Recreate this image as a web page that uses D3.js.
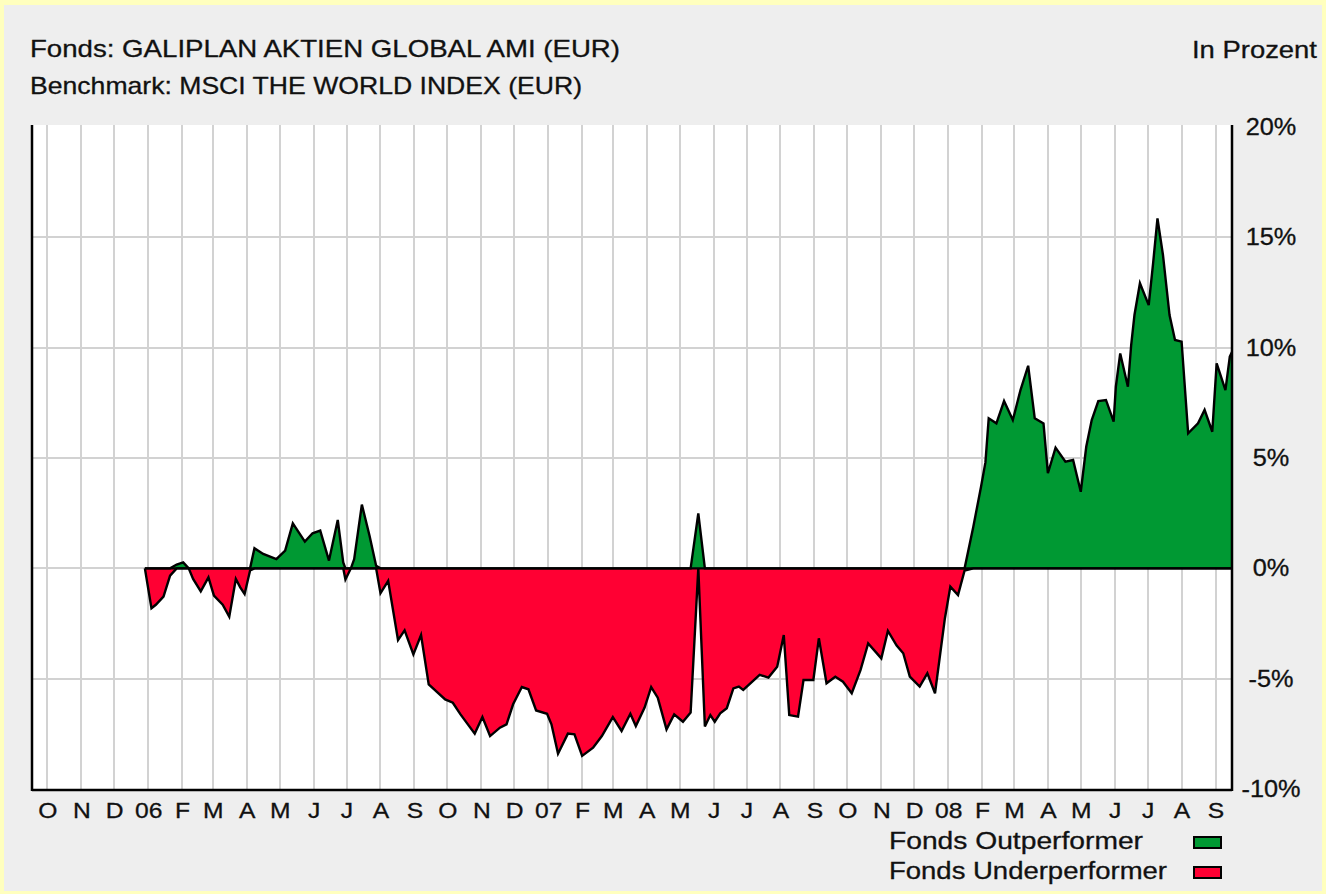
<!DOCTYPE html>
<html><head><meta charset="utf-8">
<script src="https://cdn.jsdelivr.net/npm/d3@7"></script>
<style>
html,body{margin:0;padding:0;background:#fff;}
svg{display:block;font-family:"Liberation Sans",Arial,Helvetica,sans-serif;}
</style>
</head><body>
<svg id="chart" width="1326" height="894"></svg>
<script>
const fundTitle = "Fonds: GALIPLAN AKTIEN GLOBAL AMI (EUR)";
const benchmarkTitle = "Benchmark: MSCI THE WORLD INDEX (EUR)";
const unitLabel = "In Prozent";
const legendLabels = ["Fonds Outperformer", "Fonds Underperformer"];

const dates = [
  "2005-12-29","2006-01-04","2006-01-08","2006-01-15","2006-01-21","2006-01-27","2006-02-02","2006-02-07",
  "2006-02-11","2006-02-18","2006-02-25","2006-03-02","2006-03-10","2006-03-16","2006-03-22","2006-03-26",
  "2006-03-30","2006-04-04","2006-04-08","2006-04-16","2006-04-28","2006-05-06","2006-05-13","2006-05-24",
  "2006-05-31","2006-06-07","2006-06-15","2006-06-23","2006-06-28","2006-06-30","2006-07-05","2006-07-08",
  "2006-07-15","2006-07-22","2006-07-28","2006-08-01","2006-08-08","2006-08-17","2006-08-23","2006-08-31",
  "2006-09-07","2006-09-14","2006-09-29","2006-10-06","2006-10-13","2006-10-26","2006-11-02","2006-11-09",
  "2006-11-18","2006-11-24","2006-11-30","2006-12-08","2006-12-14","2006-12-21","2006-12-31","2007-01-04",
  "2007-01-10","2007-01-19","2007-01-25","2007-02-01","2007-02-11","2007-02-19","2007-03-01","2007-03-09",
  "2007-03-17","2007-03-22","2007-03-30","2007-04-05","2007-04-11","2007-04-19","2007-04-26","2007-05-04",
  "2007-05-11","2007-05-18","2007-05-24","2007-05-29","2007-06-02","2007-06-07","2007-06-13","2007-06-19",
  "2007-06-24","2007-06-28","2007-07-06","2007-07-13","2007-07-21","2007-07-29","2007-08-04","2007-08-09",
  "2007-08-17","2007-08-22","2007-08-31","2007-09-05","2007-09-12","2007-09-20","2007-09-27","2007-10-05",
  "2007-10-13","2007-10-20","2007-11-01","2007-11-07","2007-11-15","2007-11-21","2007-11-27","2007-12-06",
  "2007-12-13","2007-12-20","2007-12-29","2008-01-03","2008-01-10","2008-01-16","2008-01-24","2008-01-31",
  "2008-02-04","2008-02-07","2008-02-14","2008-02-21","2008-02-29","2008-03-07","2008-03-14","2008-03-20",
  "2008-03-28","2008-04-01","2008-04-08","2008-04-17","2008-04-24","2008-05-01","2008-05-06","2008-05-11",
  "2008-05-17","2008-05-24","2008-05-31","2008-06-02","2008-06-06","2008-06-13","2008-06-16","2008-06-19",
  "2008-06-24","2008-07-02","2008-07-06","2008-07-10","2008-07-15","2008-07-21","2008-07-26","2008-08-01",
  "2008-08-07","2008-08-16","2008-08-22","2008-08-29","2008-09-02","2008-09-10","2008-09-14","2008-09-16"
];
const relativePerformance = [
   0.00, -1.81, -1.65, -1.28, -0.33,  0.17,  0.27,  0.00,
  -0.48, -1.04, -0.41, -1.24, -1.65, -2.19, -0.48, -0.86,
  -1.16, -0.10,  0.91,  0.65,  0.42,  0.80,  2.04,  1.21,
   1.59,  1.71,  0.35,  2.19,  0.27, -0.51,  0.00,  0.42,
   2.89,  1.48,  0.12, -1.13, -0.57, -3.25, -2.81, -3.90,
  -3.02, -5.26, -5.94, -6.09, -6.62, -7.49, -6.74, -7.60,
  -7.22, -7.07, -6.16, -5.38, -5.48, -6.44, -6.59, -7.07,
  -8.40, -7.49, -7.52, -8.50, -8.13, -7.60, -6.74, -7.37,
  -6.59, -7.15, -6.31, -5.38, -5.86, -7.30, -6.62, -6.95,
  -6.54,  2.49, -7.17, -6.65, -6.95, -6.57, -6.34, -5.44,
  -5.36, -5.51, -5.14, -4.83, -4.95, -4.46, -3.02, -6.65,
  -6.72, -5.06, -5.06, -3.17, -5.21, -4.91, -5.14, -5.66,
  -4.61, -3.40, -4.08, -2.84, -3.50, -3.85, -4.91, -5.36,
  -4.76, -5.66, -2.27, -0.83, -1.21, -0.10,  1.90,  3.70,
   4.80,  6.80,  6.57,  7.58,  6.72,  8.08,  9.18,  6.80,
   6.57,  4.31,  5.47,  4.83,  4.91,  3.47,  5.51,  6.72,
   7.58,  7.63,  6.65,  8.23,  9.74,  8.23, 10.12, 11.48,
  12.92, 11.93, 13.82, 15.86, 14.20, 11.48, 10.35, 10.27,
   6.12,  6.57,  7.18,  6.19,  9.29,  8.08,  9.59,  9.80
];

const yTickValues = [-10, -5, 0, 5, 10, 15, 20];
const yTickLabels = ["-10%", "-5%", "0%", "5%", "10%", "15%", "20%"];
const monthTickLabels = ["O","N","D","06","F","M","A","M","J","J","A","S",
                         "O","N","D","07","F","M","A","M","J","J","A","S",
                         "O","N","D","08","F","M","A","M","J","J","A","S"];

const parse = d3.timeParse("%Y-%m-%d");
const data = dates.map((d, i) => ({date: parse(d), value: relativePerformance[i]}));

const svg = d3.select("#chart");
const W = 1326, H = 894;
const plot = {left: 32, right: 1232, top: 125, bottom: 790};

// background
svg.append("rect").attr("width", W).attr("height", H).attr("fill", "#ffffbe");
svg.append("rect").attr("x", 4).attr("y", 5).attr("width", W - 8).attr("height", H - 8).attr("fill", "#eeeeee");

const x = d3.scaleTime()
  .domain([new Date(2005, 8, 17), new Date(2008, 8, 16)])
  .range([plot.left, plot.right]);
const y = d3.scaleLinear().domain([-10, 20]).range([789, 127]);

// plot background
svg.append("rect").attr("x", plot.left).attr("y", plot.top)
  .attr("width", plot.right - plot.left).attr("height", plot.bottom - plot.top).attr("fill", "#ffffff");

const monthTicks = d3.timeMonth.range(new Date(2005, 9, 1), new Date(2008, 9, 1));

// gridlines
const grid = svg.append("g").attr("stroke", "#d2d2d2").attr("stroke-width", 2);
grid.selectAll("line.v").data(monthTicks).join("line").attr("class", "v")
  .attr("x1", d => Math.round(x(d))).attr("x2", d => Math.round(x(d)))
  .attr("y1", plot.top).attr("y2", plot.bottom);
grid.selectAll("line.h").data(yTickValues.filter(v => v !== 20 && v !== -10)).join("line").attr("class", "h")
  .attr("x1", plot.left).attr("x2", plot.right)
  .attr("y1", d => Math.round(y(d))).attr("y2", d => Math.round(y(d)));

// areas
const areaPos = d3.area().x(d => x(d.date)).y0(y(0)).y1(d => y(Math.max(d.value, 0)));
const areaNeg = d3.area().x(d => x(d.date)).y0(y(0)).y1(d => y(Math.min(d.value, 0)));
const linePos = d3.line().x(d => x(d.date)).y(d => y(Math.max(d.value, 0)));
const lineNeg = d3.line().x(d => x(d.date)).y(d => y(Math.min(d.value, 0)));

svg.append("path").datum(data).attr("d", areaNeg).attr("fill", "#ff0033");
svg.append("path").datum(data).attr("d", areaPos).attr("fill", "#009933");
svg.append("path").datum(data).attr("d", lineNeg).attr("fill", "none").attr("stroke", "#000").attr("stroke-width", 2.4).attr("stroke-linejoin", "miter");
svg.append("path").datum(data).attr("d", linePos).attr("fill", "none").attr("stroke", "#000").attr("stroke-width", 2.4).attr("stroke-linejoin", "miter");

// zero line across the data range only
svg.append("line").attr("x1", x(data[0].date)).attr("x2", plot.right)
  .attr("y1", y(0)).attr("y2", y(0)).attr("stroke", "#000").attr("stroke-width", 2.2);

// borders
const border = svg.append("g").attr("stroke", "#000").attr("stroke-width", 2.5);
border.append("line").attr("x1", plot.left).attr("x2", plot.left).attr("y1", plot.top).attr("y2", plot.bottom + 1);
border.append("line").attr("x1", plot.right).attr("x2", plot.right).attr("y1", plot.top).attr("y2", plot.bottom + 1);
border.append("line").attr("x1", plot.left).attr("x2", plot.right).attr("y1", plot.bottom).attr("y2", plot.bottom);

function stretch(sel, f) {
  sel.each(function() {
    const n = this.getComputedTextLength();
    d3.select(this).attr("textLength", n * f).attr("lengthAdjust", "spacingAndGlyphs");
  });
}

// x axis (month labels)
const xAxis = d3.axisBottom(x).tickValues(monthTicks)
  .tickFormat((d, i) => monthTickLabels[i]).tickSize(0).tickPadding(12);
const gx = svg.append("g").attr("transform", `translate(0,${plot.bottom})`).call(xAxis);
gx.select(".domain").remove();
gx.selectAll("text").attr("font-size", 22).attr("fill", "#111").attr("font-family", "Liberation Sans, Arial, sans-serif")
  .attr("stroke", "#111").attr("stroke-width", 0.3);
stretch(gx.selectAll("text"), 1.12);

// y axis on right
const yAxis = d3.axisRight(y).tickValues(yTickValues)
  .tickFormat((d, i) => yTickLabels[i]).tickSize(0).tickPadding(0);
const gy = svg.append("g").attr("transform", `translate(${plot.right},0)`).call(yAxis);
gy.select(".domain").remove();
gy.selectAll("text").attr("x", 39).attr("text-anchor", "middle").attr("font-size", 23)
  .attr("fill", "#111").attr("font-family", "Liberation Sans, Arial, sans-serif")
  .attr("stroke", "#111").attr("stroke-width", 0.3);
stretch(gy.selectAll("text"), 1.1);

// titles
const tg = svg.append("g").attr("fill", "#111").attr("stroke", "#111").attr("stroke-width", 0.3);
tg.append("text").attr("x", 30).attr("y", 57).attr("font-size", 24)
  .attr("textLength", 590).attr("lengthAdjust", "spacingAndGlyphs").text(fundTitle);
tg.append("text").attr("x", 30).attr("y", 94).attr("font-size", 24)
  .attr("textLength", 552).attr("lengthAdjust", "spacingAndGlyphs").text(benchmarkTitle);
tg.append("text").attr("x", 1192).attr("y", 58).attr("font-size", 24)
  .attr("textLength", 125).attr("lengthAdjust", "spacingAndGlyphs").text(unitLabel);

// legend
const legendColors = ["#009933", "#ff0033"];
const legendWidths = [254, 278];
const lg = svg.append("g");
legendLabels.forEach((lab, i) => {
  const yb = 849 + i * 30;
  lg.append("text").attr("x", 889).attr("y", yb).attr("font-size", 23).attr("fill", "#111")
    .attr("stroke", "#111").attr("stroke-width", 0.3)
    .attr("textLength", legendWidths[i]).attr("lengthAdjust", "spacingAndGlyphs").text(lab);
  lg.append("rect").attr("x", 1194).attr("y", yb - 12).attr("width", 27).attr("height", 11)
    .attr("fill", legendColors[i]).attr("stroke", "#000").attr("stroke-width", 2);
});
</script>
</body></html>
